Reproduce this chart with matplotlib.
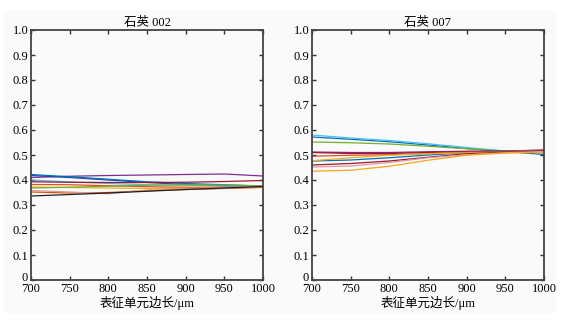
import numpy as np
import matplotlib
matplotlib.use("Agg")
import matplotlib.pyplot as plt
import matplotlib.transforms as mtransforms
from matplotlib.patches import Rectangle

plt.rcParams['font.family'] = ['Liberation Serif', 'Noto Sans CJK SC']
plt.rcParams['font.size'] = 9

# side length of the representative unit (um)
edge = [700, 750, 800, 850, 900, 950, 1000]

# MATLAB default line colours
c_blue = '#0072BD'
c_red = '#D95319'
c_yellow = '#EDB120'
c_purple = '#7E2F8E'
c_green = '#77AC30'
c_cyan = '#4DBEEE'
c_dred = '#A2142F'

# quartz 002
q002_purple = [0.410, 0.415, 0.418, 0.420, 0.422, 0.424, 0.416]
q002_blue1 = [0.418, 0.410, 0.400, 0.390, 0.382, 0.377, 0.372]
q002_blue2 = [0.422, 0.413, 0.403, 0.393, 0.386, 0.381, 0.376]
q002_cyan = [0.400, 0.392, 0.386, 0.381, 0.379, 0.376, 0.371]
q002_orange = [0.382, 0.381, 0.377, 0.373, 0.371, 0.371, 0.372]
q002_yellow = [0.372, 0.370, 0.368, 0.366, 0.366, 0.368, 0.370]
q002_green = [0.368, 0.371, 0.375, 0.379, 0.381, 0.380, 0.376]
q002_dred = [0.393, 0.391, 0.390, 0.390, 0.391, 0.394, 0.398]
q002_red = [0.352, 0.348, 0.350, 0.357, 0.362, 0.366, 0.371]
q002_pink = [0.358, 0.352, 0.345, 0.360, 0.364, 0.368, 0.373]
q002_black = [0.336, 0.342, 0.348, 0.355, 0.362, 0.368, 0.374]

# quartz 007
q007_blue1 = [0.572, 0.563, 0.553, 0.540, 0.526, 0.514, 0.502]
q007_cyan = [0.580, 0.568, 0.558, 0.545, 0.530, 0.516, 0.508]
q007_green = [0.552, 0.549, 0.544, 0.535, 0.525, 0.516, 0.510]
q007_purple = [0.512, 0.510, 0.510, 0.513, 0.515, 0.515, 0.514]
q007_dred = [0.510, 0.506, 0.506, 0.510, 0.514, 0.516, 0.520]
q007_red1 = [0.495, 0.499, 0.501, 0.506, 0.511, 0.515, 0.519]
q007_blue2 = [0.476, 0.480, 0.489, 0.500, 0.509, 0.513, 0.516]
q007_yellow = [0.477, 0.489, 0.499, 0.505, 0.509, 0.510, 0.514]
q007_red2 = [0.460, 0.466, 0.476, 0.491, 0.505, 0.511, 0.516]
q007_pink = [0.452, 0.456, 0.470, 0.489, 0.501, 0.509, 0.514]
q007_orange = [0.435, 0.439, 0.455, 0.479, 0.499, 0.508, 0.510]

series_002 = [
    (q002_purple, c_purple), (q002_blue1, '#2A3F9E'), (q002_blue2, c_blue),
    (q002_cyan, c_cyan), (q002_orange, c_red), (q002_yellow, c_yellow),
    (q002_green, c_green), (q002_dred, c_dred), (q002_red, c_red),
    (q002_pink, '#D99A9A'), (q002_black, '#202020'),
]
series_007 = [
    (q007_blue1, c_blue), (q007_cyan, c_cyan), (q007_green, c_green),
    (q007_purple, c_purple), (q007_dred, c_dred), (q007_red1, c_red),
    (q007_blue2, c_blue), (q007_yellow, c_yellow), (q007_red2, c_dred),
    (q007_pink, '#D99A9A'), (q007_orange, '#F5A623'),
]

fig = plt.figure(figsize=(5.62, 3.21), dpi=100)
fig.patch.set_facecolor('white')
fig.patches.append(Rectangle((4 / 562, 8 / 321), 552 / 562, 303 / 321,
                             transform=fig.transFigure, facecolor='#fafafa',
                             edgecolor='none', zorder=-10))

ax1 = fig.add_axes([31 / 562, 1 - 280 / 321, 232 / 562, 250 / 321])
ax2 = fig.add_axes([312 / 562, 1 - 280 / 321, 232 / 562, 250 / 321])

for ax, series, title in [(ax1, series_002, '石英 002'), (ax2, series_007, '石英 007')]:
    ax.set_facecolor('#fafafa')
    for vals, col in series:
        ax.plot(edge, vals, color=col, lw=0.9)
    ax.set_xlim(700, 1000)
    ax.set_ylim(0, 1)
    ax.set_xticks(np.arange(700, 1001, 50))
    ax.set_yticks(np.arange(0, 1.01, 0.1))
    ax.set_yticklabels(['0'] + [f'{v:.1f}' for v in np.arange(0.1, 1.01, 0.1)])
    ax.tick_params(direction='in', top=True, right=True, length=3,
                   width=1, color='#333333', labelsize=9, pad=2)
    for s in ax.spines.values():
        s.set_color('#444444')
        s.set_linewidth(1.3)
    ax.set_title(title, fontsize=9, pad=3)
    ax.set_xlabel('表征单元边长/μm', fontsize=9, labelpad=1)
    # nudge the "0" label up a little so it clears the "700" below it
    lab0 = ax.get_yticklabels()[0]
    lab0.set_transform(lab0.get_transform() +
                       mtransforms.ScaledTranslation(0, 2.5 / 72, fig.dpi_scale_trans))

fig.savefig('out.png', dpi=100, facecolor=fig.get_facecolor())
